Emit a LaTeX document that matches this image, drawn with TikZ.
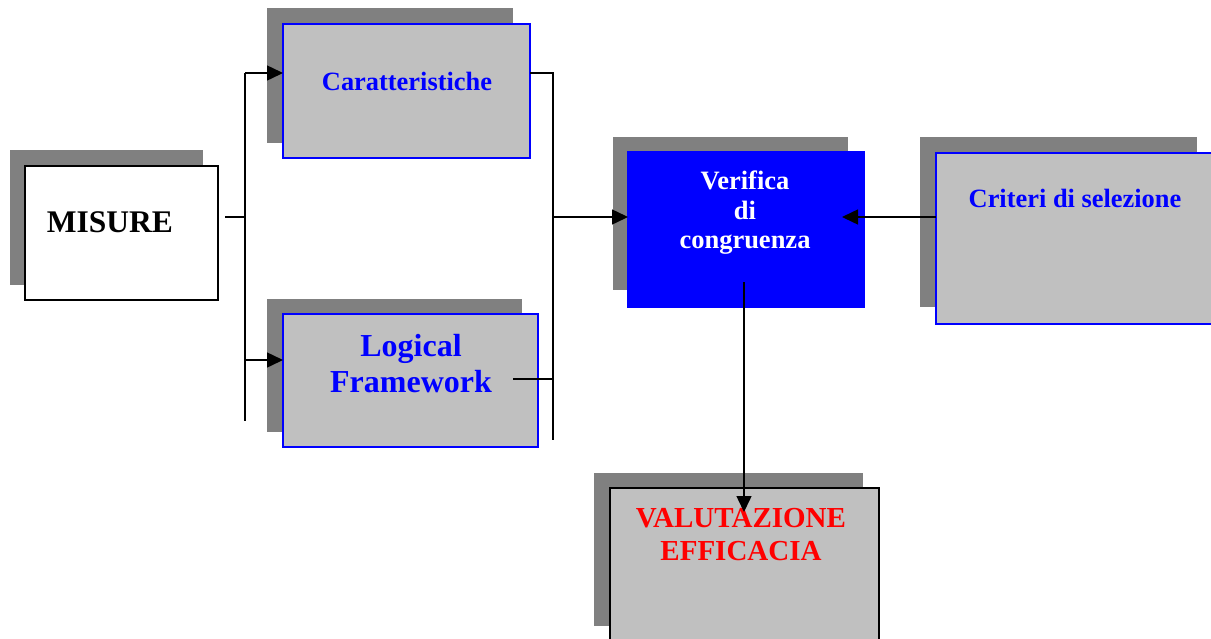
\documentclass[tikz,border=0pt]{standalone}
\usepackage{fontspec}
\setmainfont{Liberation Serif}
\usetikzlibrary{arrows.meta}
\definecolor{shgray}{HTML}{808080}
\definecolor{boxgray}{HTML}{C0C0C0}
\tikzset{
  shadowbox/.style={fill=shgray, draw=none},
  boxnode/.style={draw, line width=1.5pt, anchor=north west, inner sep=0pt, outer sep=0pt},
  conn/.style={line width=1.5pt, draw=black},
  arr/.style={conn, -{Triangle[length=16pt,width=15pt]}},
  lbl/.style={inner sep=0pt, font=\bfseries, align=center},
}
\begin{document}
\begin{tikzpicture}[x=1pt,y=-1pt]
\clip (0,0) rectangle (1211,638);
\fill[white] (0,0) rectangle (1211,638);
% shadows
\fill[shadowbox] (10,150) rectangle (203,285);
\fill[shadowbox] (267,8) rectangle (513,143);
\fill[shadowbox] (267,299) rectangle (522,432);
\fill[shadowbox] (613,137) rectangle (848,290);
\fill[shadowbox] (920,137) rectangle (1197,307);
\fill[shadowbox] (594,473) rectangle (863,626);
% boxes
\node[boxnode, fill=white, draw=black, minimum width=193pt, minimum height=134pt] (mis) at (25,166) {};
\node[boxnode, fill=boxgray, draw=blue, minimum width=247pt, minimum height=134pt] (car) at (283,24) {};
\node[boxnode, fill=boxgray, draw=blue, minimum width=255pt, minimum height=133pt] (lf) at (283,314) {};
\node[boxnode, fill=blue, draw=blue, minimum width=236pt, minimum height=155pt] (ver) at (628,152) {};
\node[boxnode, fill=boxgray, draw=blue, minimum width=290pt, minimum height=171pt] (cri) at (936,153) {};
\node[boxnode, fill=boxgray, draw=black, minimum width=269pt, minimum height=170pt] (val) at (610,488) {};
% labels
\node[lbl, anchor=base, font=\bfseries\fontsize{31.5}{36}\selectfont] (tmis) at (110,232) {MISURE};
\node[lbl, anchor=base, text=blue, font=\bfseries\fontsize{26.4}{30}\selectfont] (tcar) at (407,90) {Caratteristiche};
\node[lbl, text=blue, font=\bfseries\fontsize{32}{36}\selectfont] (tlf) at (411,364) {Logical\\Framework};
\node[lbl, text=white, font=\bfseries\fontsize{26.5}{29.5}\selectfont] (tver) at (745,213) {Verifica\\di\\congruenza};
\node[lbl, anchor=base, text=blue, font=\bfseries\fontsize{26.4}{30}\selectfont] (tcri) at (1075,207) {Criteri di selezione};
\node[lbl, text=red, font=\bfseries\fontsize{29}{33}\selectfont] (tval) at (741,535) {VALUTAZIONE\\EFFICACIA};
% bus coordinates
\coordinate (b1t) at (245,73);
\coordinate (b1b) at (245,421);
\coordinate (b1m) at (245,217);
\coordinate (m0) at (225,217);
\coordinate (b2t) at (553,73);
\coordinate (b2b) at (553,440);
\coordinate (b2m) at (553,217);
\coordinate (lf0) at (513,379);
\coordinate (b2l) at (553,379);
\coordinate (cr0) at (936,217);
\coordinate (vt) at (842,217);
\coordinate (vd0) at (744,282);
\coordinate (vd1) at (744,512);
% connectors
\draw[conn] (m0) -- (b1m);
\draw[conn] (b1t) -- (b1b);
\draw[arr] (b1t) -- (car.west |- b1t);
\draw[arr] (245,360) -- (lf.west |- 0,360);
\draw[conn] (car.east |- b2t) -- (b2t) -- (b2b);
\draw[conn] (lf0) -- (b2l);
\draw[arr] (b2m) -- (ver.west |- b2m);
\draw[arr] (cr0) -- (vt);
\draw[arr] (vd0) -- (vd1);
\end{tikzpicture}
\end{document}
